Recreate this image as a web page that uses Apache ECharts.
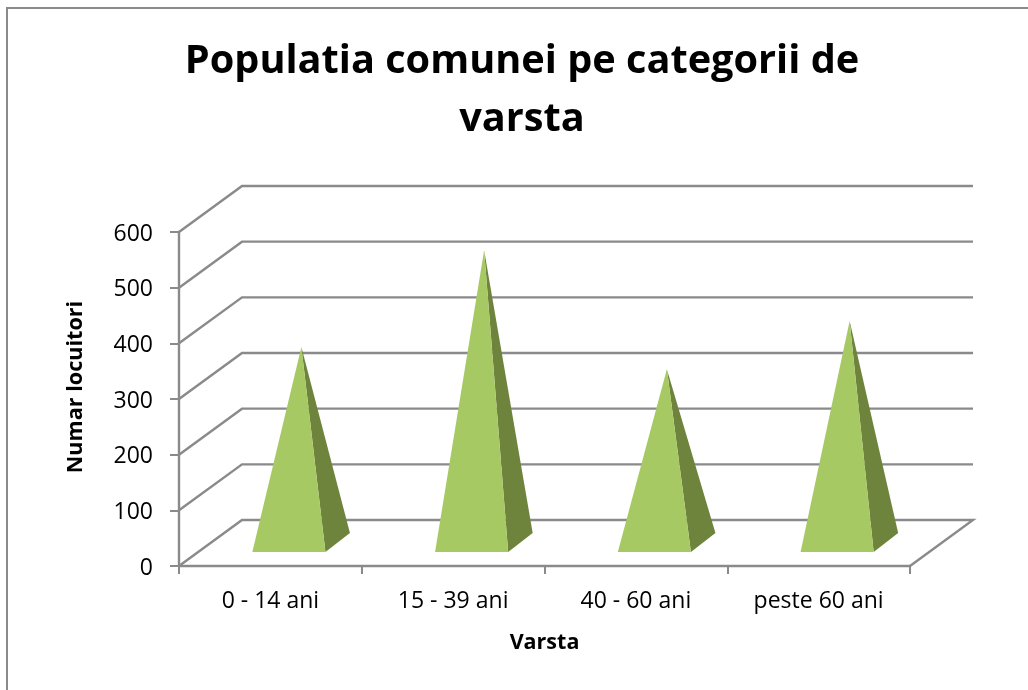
<!DOCTYPE html>
<html>
<head>
<meta charset="utf-8">
<script src="https://cdn.jsdelivr.net/npm/echarts@6/dist/echarts.min.js"></script>
<style>html,body{margin:0;padding:0;background:#fff}#c{width:1028px;height:690px}</style>
</head>
<body>
<div id="c"></div>
<script>
var categories = ['0 - 14 ani', '15 - 39 ani', '40 - 60 ani', 'peste 60 ani'];
var populatie = [352, 526, 312, 399];
var yTicks = [0, 100, 200, 300, 400, 500, 600];
var titleText = 'Populatia comunei pe categorii de\nvarsta';
var xName = 'Varsta';
var yName = 'Numar locuitori';

var DEPTH_X = 63, DEPTH_Y = -46;
var LINE = '#8a8a8a', FRONT = '#a7c963', SIDE = '#6e843c';
var FONT = '"Open Sans", sans-serif';

var chart = echarts.init(document.getElementById('c'), null, {renderer: 'canvas'});

function renderWall(params, api) {
  var cs = params.coordSys;
  var v = api.value(0);
  var p = api.coord([0, v]);
  var y = p[1], x0 = cs.x, x1 = cs.x + cs.width;
  var pts = [[x0, y], [x0 + DEPTH_X, y + DEPTH_Y], [x1 + DEPTH_X, y + DEPTH_Y]];
  if (v === 0) pts.push([x1, y]);
  return {type: 'polyline', shape: {points: pts}, silent: true,
    style: {stroke: LINE, lineWidth: 2.4, fill: null}};
}

function renderPyramid(params, api) {
  var c = api.coord([api.value(0), 0]);
  var top = api.coord([api.value(0), api.value(1)]);
  var halfW = api.size([1, 0])[0] * 0.2;
  var fx = 18.5, fy = -14;    // front edge of the base, in the floor's depth
  var bx = 43, by = -33;      // back edge of the base
  var mx = 31, my = -23;      // centre of the base: the apex stands on it
  var cx = c[0];
  var fl = [cx - halfW + fx, c[1] + fy];
  var fr = [cx + halfW + fx, c[1] + fy];
  var br = [cx + halfW + bx, c[1] + by];
  var apex = [cx + mx, top[1] + my];
  var ridge = [fr, br, apex];
  return {type: 'group', children: [
    {type: 'polygon', shape: {points: ridge}, style: {fill: SIDE}},
    {type: 'polygon', shape: {points: [fl, fr, apex]}, style: {fill: FRONT}}
  ]};
}

chart.setOption({
  animation: false,
  backgroundColor: '#fff',
  title: {
    text: titleText, left: 517, top: 28, textAlign: 'center',
    textStyle: {fontFamily: FONT, fontWeight: 'bold', fontSize: 39.7, lineHeight: 58, color: '#000'}
  },
  grid: {left: 179, top: 232, width: 731, height: 334, containLabel: false},
  xAxis: {
    type: 'category', data: categories,
    name: xName, nameLocation: 'middle', nameGap: 66,
    nameTextStyle: {fontFamily: FONT, fontWeight: 'bold', fontSize: 21.5, color: '#000'},
    axisLine: {lineStyle: {color: LINE, width: 2.4}},
    axisTick: {show: true, length: 8, alignWithLabel: false, lineStyle: {color: LINE, width: 2}},
    axisLabel: {fontFamily: FONT, fontSize: 23, color: '#000', margin: 24},
    splitLine: {show: false}
  },
  yAxis: {
    type: 'value', min: 0, max: 600, interval: 100,
    name: yName, nameLocation: 'middle', nameGap: 92,
    nameTextStyle: {fontFamily: FONT, fontWeight: 'bold', fontSize: 21.6, color: '#000', padding: [0, 0, 0, 24]},
    axisLine: {show: true, lineStyle: {color: LINE, width: 2.4}},
    axisTick: {show: true, length: 9, lineStyle: {color: LINE, width: 2}},
    axisLabel: {
      color: '#000', margin: 26, formatter: '{n|{value}}',
      rich: {n: {fontFamily: FONT, fontSize: 23, color: '#000', lineHeight: 30, padding: [4, 0, 0, 0]}}
    },
    splitLine: {show: false}
  },
  graphic: [
    {type: 'polyline', silent: true, z: 0, shape: {points: [[7, 690], [7, 8], [1028, 8]]},
      style: {stroke: LINE, lineWidth: 2, fill: null}}
  ],
  series: [
    {type: 'custom', clip: false, silent: true, z: 1, coordinateSystem: 'cartesian2d',
      encode: {x: 1, y: 0},
      data: yTicks.map(function (t) { return [t, 0]; }),
      renderItem: renderWall},
    {type: 'custom', clip: false, silent: true, z: 3, coordinateSystem: 'cartesian2d',
      encode: {x: 0, y: 1},
      data: populatie.map(function (v, i) { return [i, v]; }),
      renderItem: renderPyramid}
  ]
});
</script>
</body>
</html>
